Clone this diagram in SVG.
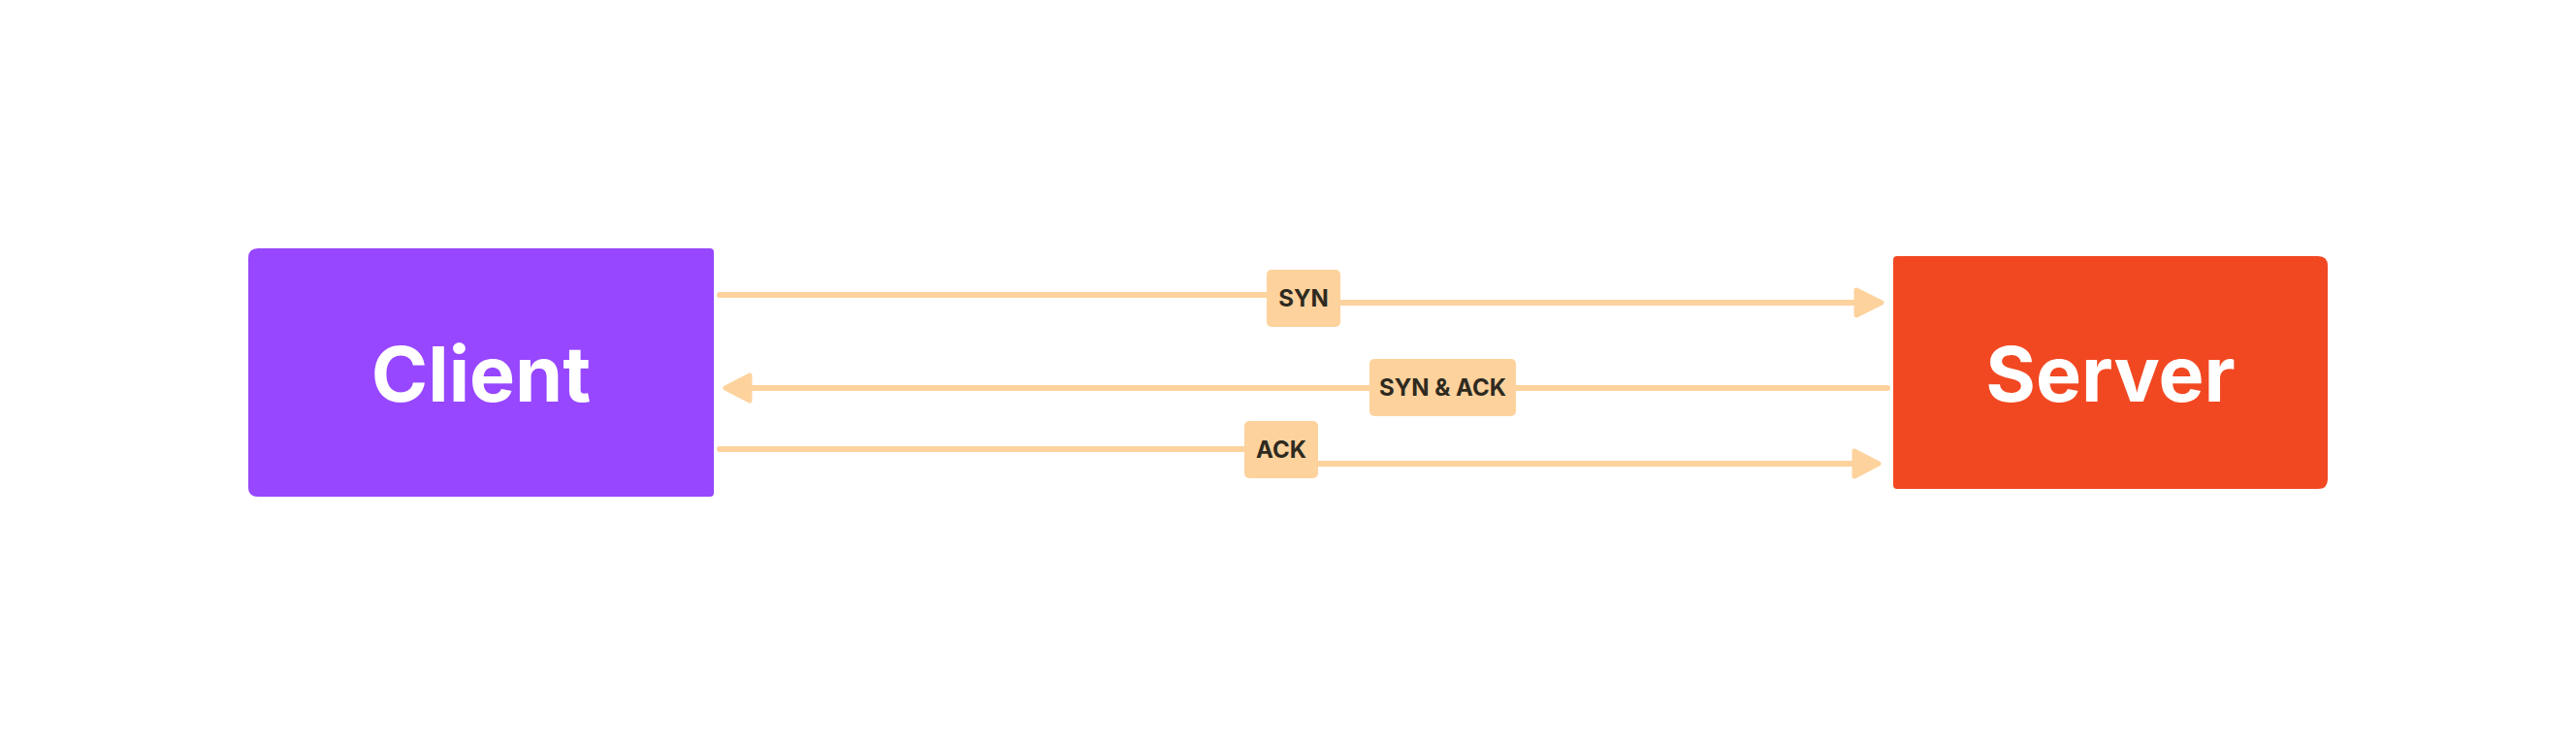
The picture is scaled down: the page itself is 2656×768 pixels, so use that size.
<svg xmlns="http://www.w3.org/2000/svg" width="2656" height="768" viewBox="0 0 2656 768">
<style>
.conn{fill:none;stroke:#FDD29D;stroke-width:6;stroke-linecap:round}
.head{fill:#FDD29D;stroke:#FDD29D;stroke-width:5;stroke-linejoin:round}
.lbl{fill:#FDD29D}
.lt{font-family:Inter,"Liberation Sans",sans-serif;font-weight:700;font-size:24px;fill:#2E2A20;text-anchor:middle}
.nt{font-family:Inter,"Liberation Sans",sans-serif;font-weight:700;font-size:79px;fill:#FFFFFF;text-anchor:middle}
</style>
<rect width="2656" height="768" fill="#FFFFFF"/>
<g id="connectors">
<g id="syn">
<path class="conn" d="M742 304 H1320"/>
<path class="conn" d="M1370 312 H1914"/>
<polygon class="head" points="1914,299 1940,312 1914,325"/>
<rect class="lbl" x="1306" y="278" width="76" height="59" rx="5"/>
<text class="lt" x="1344" y="316">SYN</text>
</g>
<g id="synack">
<path class="conn" d="M774 400 H1946"/>
<polygon class="head" points="773,387 748,400 773,413"/>
<rect class="lbl" x="1412" y="370" width="151" height="59" rx="5"/>
<text class="lt" x="1487.5" y="408">SYN &amp; ACK</text>
</g>
<g id="ack">
<path class="conn" d="M742 463 H1300"/>
<path class="conn" d="M1350 478 H1912"/>
<polygon class="head" points="1912,465 1937,478 1912,491"/>
<rect class="lbl" x="1283" y="434" width="76" height="59" rx="5"/>
<text class="lt" x="1321" y="472">ACK</text>
</g>
</g>
<g id="client">
<path d="M266 256 H732 Q736 256 736 260 V508 Q736 512 732 512 H266 Q256 512 256 502 V266 Q256 256 266 256 Z" fill="#9747FF"/>
<text class="nt" x="496" y="414">Client</text>
</g>
<g id="server">
<path d="M1956 264 H2390 Q2400 264 2400 274 V494 Q2400 504 2390 504 H1956 Q1952 504 1952 500 V268 Q1952 264 1956 264 Z" fill="#F24822"/>
<text class="nt" x="2176" y="414">Server</text>
</g>
</svg>
